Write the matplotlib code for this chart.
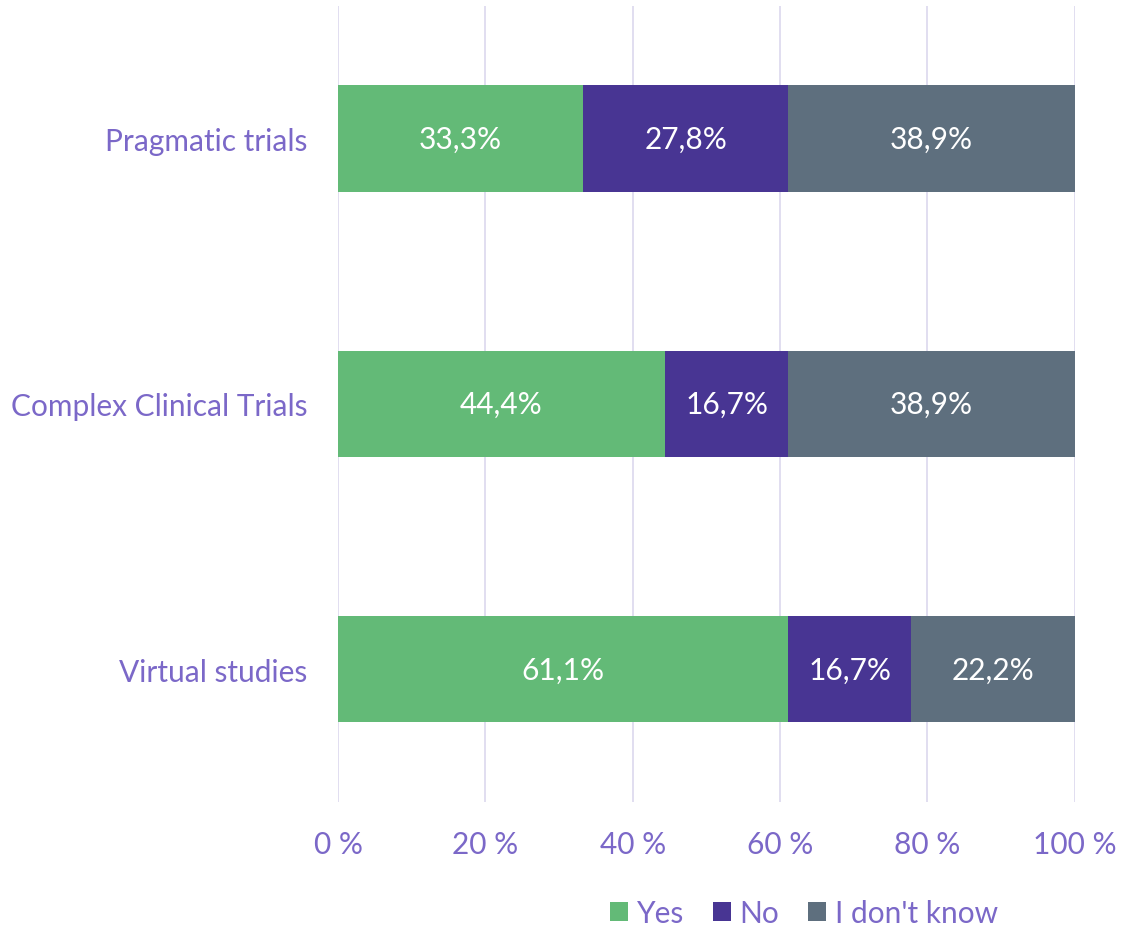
import matplotlib.pyplot as plt
import numpy as np

plt.rcParams['font.family'] = ['Lato', 'DejaVu Sans']

categories = ["Virtual studies", "Complex Clinical Trials", "Pragmatic trials"]
yes = [61.1, 44.4, 33.3]
no = [16.7, 16.7, 27.8]
dont_know = [22.2, 38.9, 38.9]
series_names = ["Yes", "No", "I don't know"]
colors = ["#63BA77", "#483593", "#5E6F7E"]
text_color = "#7B68C8"

fig = plt.figure(figsize=(11.42, 9.29), dpi=100)
ax = fig.add_axes([0.296, 0.1356, 0.645, 0.857])

y = np.arange(len(categories))
left = np.zeros(len(categories))
for vals, name, col in zip([yes, no, dont_know], series_names, colors):
    bars = ax.barh(y, vals, left=left, height=0.4, color=col, label=name, zorder=3)
    for b, v in zip(bars, vals):
        ax.text(b.get_x() + b.get_width() / 2, b.get_y() + b.get_height() / 2,
                f"{v:.1f}%".replace(".", ","), ha="center", va="center",
                color="white", fontsize=21.5, zorder=4)
    left += np.array(vals)

ax.set_xlim(0, 100)
ax.set_ylim(-0.5, 2.5)
ax.set_xticks(np.arange(0, 101, 20))
ax.set_xticklabels([f"{t} %" for t in range(0, 101, 20)])
ax.set_yticks(y)
ax.set_yticklabels(categories)
ax.tick_params(axis="both", length=0, colors=text_color, labelsize=21.5)
ax.tick_params(axis="x", pad=20)
ax.tick_params(axis="y", pad=22)
ax.grid(axis="x", color="#DCD8EE", linewidth=1.2, zorder=0)
for s in ax.spines.values():
    s.set_visible(False)

leg = fig.legend(loc="center", bbox_to_anchor=(0.704, 0.016), ncol=3, frameon=False,
                 fontsize=21.5, handlelength=0.6, handleheight=0.6, handletextpad=0.3,
                 columnspacing=0.95)
for t in leg.get_texts():
    t.set_color(text_color)

fig.savefig("out.png", dpi=100)
